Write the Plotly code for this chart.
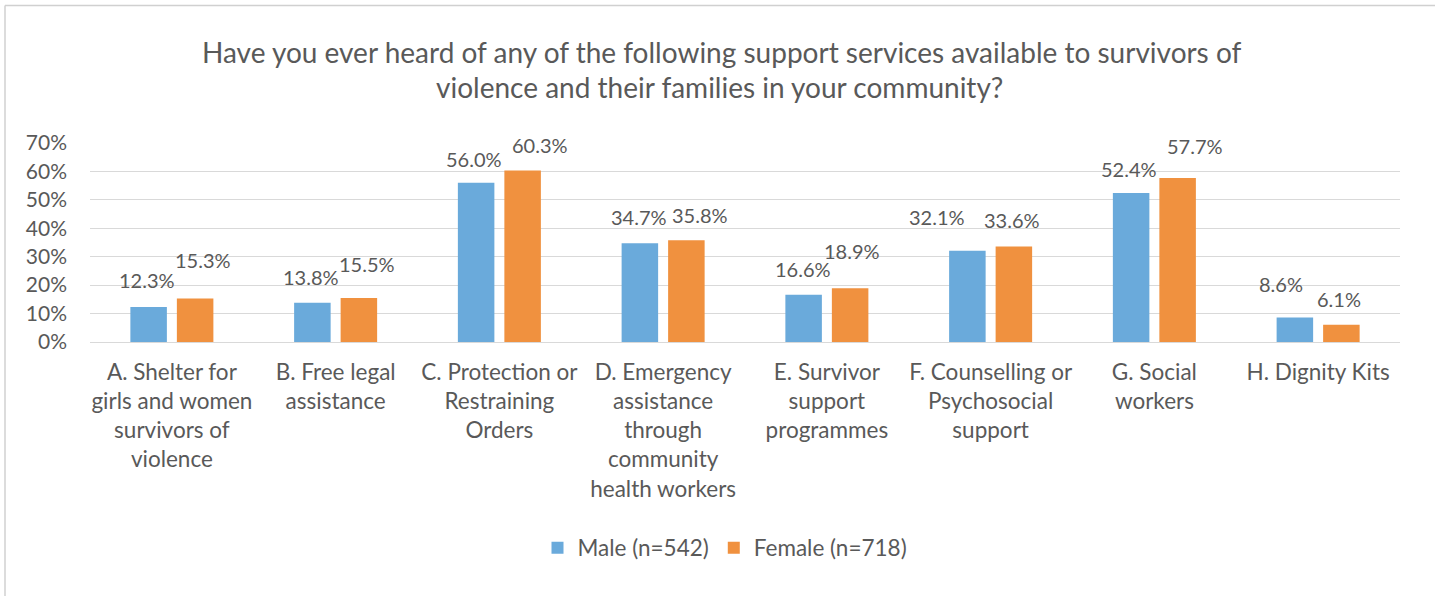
import plotly.graph_objects as go

# ---- data ----
categories = [
    "A. Shelter for<br>girls and women<br>survivors of<br>violence",
    "B. Free legal<br>assistance",
    "C. Protection or<br>Restraining<br>Orders",
    "D. Emergency<br>assistance<br>through<br>community<br>health workers",
    "E. Survivor<br>support<br>programmes",
    "F. Counselling or<br>Psychosocial<br>support",
    "G. Social<br>workers",
    "H. Dignity Kits",
]
male = [12.3, 13.8, 56.0, 34.7, 16.6, 32.1, 52.4, 8.6]
female = [15.3, 15.5, 60.3, 35.8, 18.9, 33.6, 57.7, 6.1]
series_names = ["Male (n=542)", "Female (n=718)"]
y_ticks = [0, 10, 20, 30, 40, 50, 60, 70]
title_lines = [
    "Have you ever heard of any of the following support services available to survivors of",
    "violence and their families in your community?",
]

# ---- styling ----
W, H = 1435, 596
L, R, T, B = 90, 35, 143, 254
FONT = "Lato"
TEXT = "#595959"
GRID = "#d9d9d9"
BLUE = "#6aaadb"
ORANGE = "#f0913f"

# hand-placed nudges (pixels) for the value labels
male_dx = [-2, -1, -2, -1, -1, -30, -2, -14]
male_dy = [27, 26, 24, 26, 26, 34, 24, 34]
female_dx = [8, 8, 17, 14, 2, -2, 17, -2]
female_dy = [39, 34, 26, 25, 37, 26, 32, 26]
BAR_OFFSET = 23.25


def px_x(px):
    return (px - L) / (W - L - R)


def px_y(py):
    return (H - B - py) / (H - T - B)


fig = go.Figure()
fig.add_trace(go.Bar(x=categories, y=male, name=series_names[0],
                     marker=dict(color=BLUE, line=dict(width=0))))
fig.add_trace(go.Bar(x=categories, y=female, name=series_names[1],
                     marker=dict(color=ORANGE, line=dict(width=0))))

annotations = []
for cat, v, dx, dy in zip(categories, male, male_dx, male_dy):
    annotations.append(dict(x=cat, y=v, xref="x", yref="y", text=f"{v:.1f}%",
                            showarrow=False, xshift=-BAR_OFFSET + dx, yshift=dy,
                            yanchor="middle", font=dict(size=20, color=TEXT, family=FONT)))
for cat, v, dx, dy in zip(categories, female, female_dx, female_dy):
    annotations.append(dict(x=cat, y=v, xref="x", yref="y", text=f"{v:.1f}%",
                            showarrow=False, xshift=BAR_OFFSET + dx, yshift=dy,
                            yanchor="middle", font=dict(size=20, color=TEXT, family=FONT)))

for line, (cx, cy) in zip(title_lines, [(721, 52), (719, 87)]):
    annotations.append(dict(x=px_x(cx), y=px_y(cy), xref="paper", yref="paper",
                            text=line, showarrow=False, xanchor="center", yanchor="middle",
                            font=dict(size=28, color=TEXT, family=FONT)))

fig.update_layout(
    width=W, height=H,
    margin=dict(l=L, r=R, t=T, b=B, pad=0),
    paper_bgcolor="white", plot_bgcolor="white",
    barmode="group", bargap=0.432, bargroupgap=0.215,
    font=dict(family=FONT, color=TEXT),
    annotations=annotations,
    showlegend=True,
    legend=dict(orientation="h", x=px_x(725), y=px_y(548), xanchor="center", yanchor="middle",
                font=dict(size=22.5, color=TEXT, family=FONT), traceorder="normal",
                itemwidth=30),
    shapes=[
        dict(type="line", xref="paper", yref="paper", x0=px_x(5), x1=px_x(W), y0=px_y(5.5), y1=px_y(5.5),
             line=dict(color="#d0d0d0", width=1.5)),
        dict(type="line", xref="paper", yref="paper", x0=px_x(5), x1=px_x(5), y0=px_y(5.5), y1=px_y(H),
             line=dict(color="#d0d0d0", width=1.5)),
    ],
)

fig.update_xaxes(
    showline=False, showgrid=False, zeroline=False, ticks="",
    tickfont=dict(size=22.5, color=TEXT, family=FONT),
    ticklabelstandoff=14,
)
fig.update_yaxes(
    range=[0, 70], tickvals=y_ticks, ticktext=[f"{t}%" for t in y_ticks],
    showgrid=True, gridcolor=GRID, gridwidth=1.3,
    zeroline=True, zerolinecolor=GRID, zerolinewidth=1.3,
    showline=False, ticks="",
    tickfont=dict(size=21, color=TEXT, family=FONT),
    ticklabelstandoff=22,
)

fig.write_html("out.html")
